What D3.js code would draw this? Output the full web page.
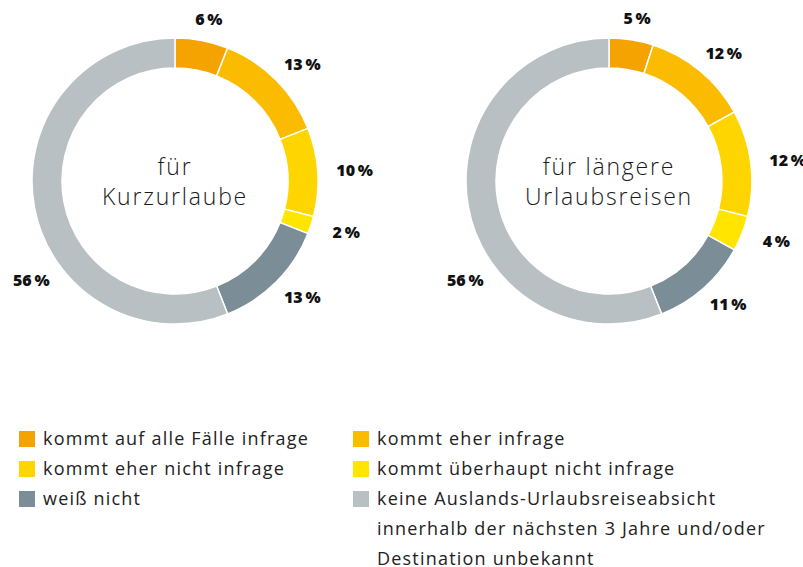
<!DOCTYPE html>
<html>
<head>
<meta charset="utf-8">
<script src="https://cdn.jsdelivr.net/npm/d3@7"></script>
<style>
  body { margin: 0; background: #fff; }
  svg text { font-family: "Open Sans", "Noto Sans", sans-serif; }
</style>
</head>
<body>
<div id="chart"></div>
<script>
// categories (legend order = slice order)
var categories = [
    "kommt auf alle Fälle infrage",
    "kommt eher infrage",
    "kommt eher nicht infrage",
    "kommt überhaupt nicht infrage",
    "weiß nicht",
    "keine Auslands-Urlaubsreiseabsicht innerhalb der nächsten 3 Jahre und/oder Destination unbekannt"
];
var colors = ["#f5a300", "#fabb00", "#ffd500", "#ffe500", "#7b8d96", "#b8c0c4"];

// values in percent
var kurz_values = [6, 13, 10, 2, 13, 56];
var lang_values = [5, 12, 12, 4, 11, 56];
var chart_titles = [["für", "Kurzurlaube"], ["für längere", "Urlaubsreisen"]];

var width = 803, height = 567;
var outer_r = 143, inner_r = 113;
// labels sit on an ellipse round the ring (wider than tall)
var label_rx = 180, label_ry = 165;

var svg = d3.select("#chart").append("svg")
    .attr("width", width)
    .attr("height", height);

var pie = d3.pie().sort(null).value(function (d) { return d; });
var arc = d3.arc().innerRadius(inner_r).outerRadius(outer_r);

function draw_donut(values, title, cx, cy) {
    var g = svg.append("g").attr("transform", "translate(" + cx + "," + cy + ")");
    var arcs = pie(values);

    g.selectAll("path")
        .data(arcs)
        .enter().append("path")
        .attr("d", arc)
        .attr("fill", function (d, i) { return colors[i]; })
        .attr("stroke", "#fff")
        .attr("stroke-width", 1.5);

    // label angle: middle of slice, big slice gets its label nearer to the start
    g.selectAll("text.val")
        .data(arcs)
        .enter().append("text")
        .attr("class", "val")
        .attr("transform", function (d) {
            var f = (d.endAngle - d.startAngle) > Math.PI ? 0.37 : 0.5;
            var a = d.startAngle + (d.endAngle - d.startAngle) * f;
            return "translate(" + (Math.sin(a) * label_rx) + "," + (-Math.cos(a) * label_ry) + ")";
        })
        .attr("text-anchor", "middle")
        .attr("dy", "0.35em")
        .style("font-size", "16px")
        .style("font-weight", "800")
        .style("fill", "#111")
        .text(function (d) { return d.data + "\u2009%"; });

    g.selectAll("text.title")
        .data(title)
        .enter().append("text")
        .attr("class", "title")
        .attr("text-anchor", "middle")
        .attr("y", function (d, i) { return -6 + i * 30; })
        .style("font-size", "23px")
        .style("font-weight", "300")
        .style("letter-spacing", "1.8px")
        .style("fill", "#1a1a1a")
        .text(function (d) { return d; });
}

draw_donut(kurz_values, chart_titles[0], 175, 181);
draw_donut(lang_values, chart_titles[1], 609, 181);

// legend, two columns
var legend_cols = [19, 353];
var row_h = 30;
var legend_rows = [0, 0, 1, 1, 2, 2];
var legend_lines = [
    [categories[0]],
    [categories[1]],
    [categories[2]],
    [categories[3]],
    [categories[4]],
    ["keine Auslands-Urlaubsreiseabsicht", "innerhalb der nächsten 3 Jahre und/oder", "Destination unbekannt"]
];

var legend = svg.append("g").attr("transform", "translate(0,439)");
var items = legend.selectAll("g.item")
    .data(categories)
    .enter().append("g")
    .attr("class", "item")
    .attr("transform", function (d, i) {
        return "translate(" + legend_cols[i % 2] + "," + (legend_rows[i] * row_h) + ")";
    });

items.append("rect")
    .attr("x", 0).attr("y", -8)
    .attr("width", 16).attr("height", 16)
    .attr("fill", function (d, i) { return colors[i]; });

items.each(function (d, i) {
    d3.select(this).selectAll("text")
        .data(legend_lines[i])
        .enter().append("text")
        .attr("x", 24)
        .attr("y", function (t, j) { return j * row_h; })
        .attr("dy", "0.35em")
        .style("font-size", "18px")
        .style("font-weight", "400")
        .style("letter-spacing", "1.2px")
        .style("fill", "#222")
        .text(function (t) { return t; });
});
</script>
</body>
</html>
